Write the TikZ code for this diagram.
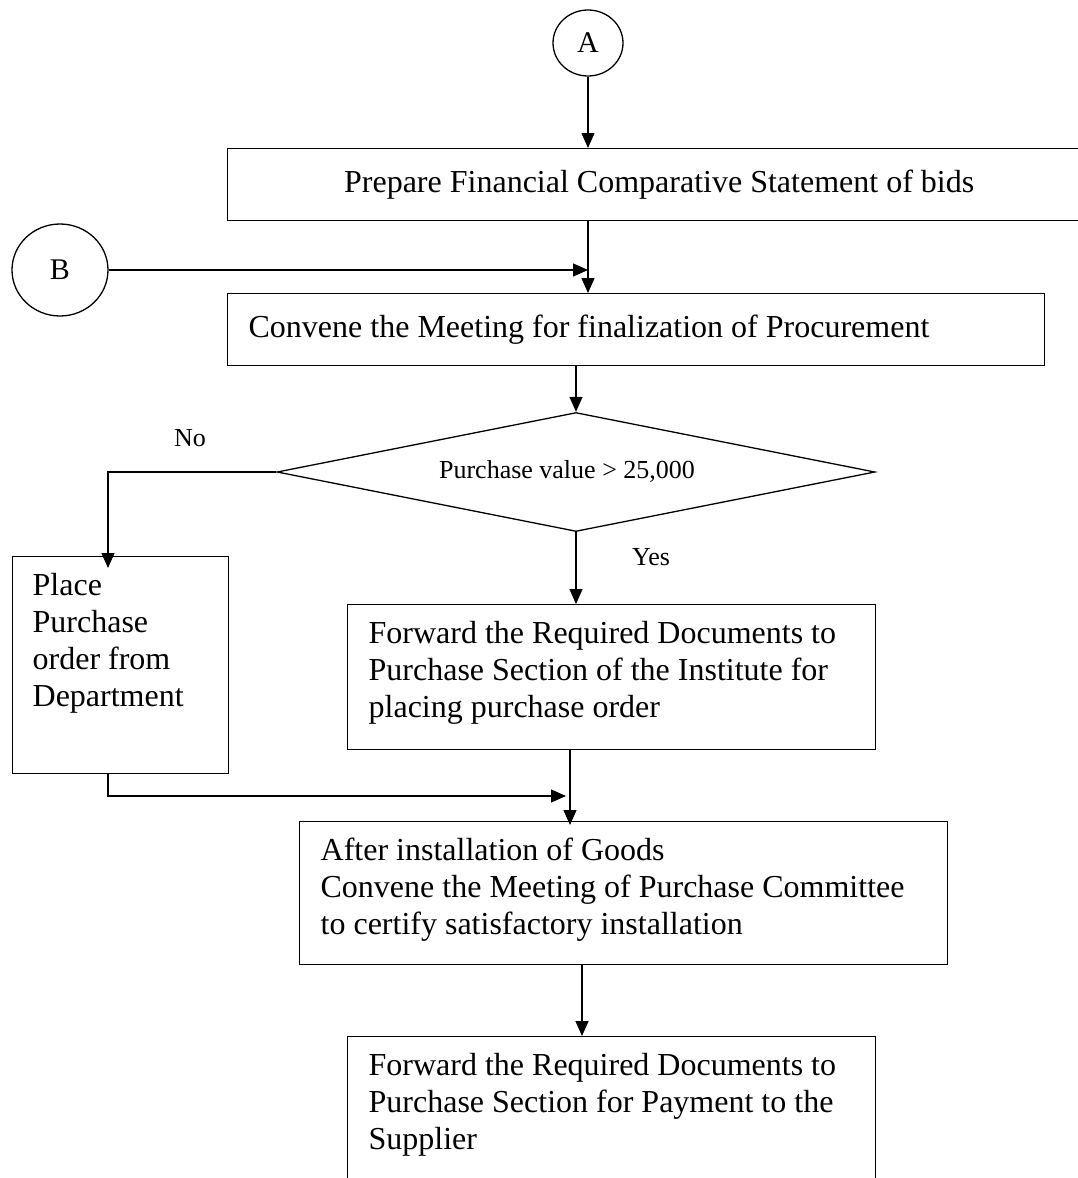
\documentclass[tikz,border=0pt]{standalone}
\usepackage{fontspec}
\setmainfont{Liberation Serif}
\usetikzlibrary{shapes.geometric,arrows.meta,calc}
\newcommand\flowtext[3]{\parbox[c][#2][t]{#1}{\raggedright\rule{0pt}{39pt}#3}}
\begin{document}
\begin{tikzpicture}[x=1pt,y=-1pt,
  every node/.style={font=\fontsize{32}{37}\selectfont},
  box/.style={draw,line width=1.3pt,rectangle,inner sep=0pt,anchor=north west},
  padbox/.style={box,inner xsep=21pt,inner ysep=0pt},
  circ/.style={draw,line width=1.3pt,ellipse,inner sep=0pt,font=\fontsize{30}{34}\selectfont},
  dia/.style={draw,line width=1.3pt,diamond,aspect=5,inner sep=0pt,minimum width=598pt,minimum height=119pt,font=\fontsize{26}{30}\selectfont},
  small/.style={font=\fontsize{26}{30}\selectfont},
  conn/.style={draw,line width=1.3pt},
  arr/.style={conn,-{Triangle[length=15pt,width=13pt]}}
]
\useasboundingbox (0,0) rectangle (1078,1178);
\fill[white] (0,0) rectangle (1078,1178);

% nodes
\node[circ,minimum width=70pt,minimum height=66pt] (A) at (588,43) {A};
\node[box,minimum width=863pt,minimum height=72pt] (b1) at (227,148) {Prepare Financial Comparative Statement of bids};
\node[circ,minimum width=96pt,minimum height=92pt] (B) at (60,270) {B};
\node[padbox,minimum height=72pt] (b2) at (227,293) {\makebox[775pt][l]{Convene the Meeting for finalization of Procurement}};
\node[dia] (D) at (576,472) {\raisebox{6pt}{Purchase value > 25,000\hspace{18pt}}};
\node[small] (no) at (190,438) {No};
\node[small] (yes) at (651,557) {Yes};
\node[padbox,inner xsep=20pt] (b3) at (12,556) {\flowtext{176pt}{217pt}{Place\\Purchase\\order from\\Department}};
\node[padbox] (b4) at (347,604) {\flowtext{486pt}{145pt}{Forward the Required Documents to\\Purchase Section of the Institute for\\placing purchase order}};
\node[padbox] (b5) at (299,821) {\flowtext{606pt}{143pt}{After installation of Goods\\Convene the Meeting of Purchase Committee\\to certify satisfactory installation}};
\node[padbox] (b6) at (347,1036) {\flowtext{486pt}{170pt}{Forward the Required Documents to\\Purchase Section for Payment to the\\Supplier}};

% helper coordinates
\coordinate (nc) at (108,472);
\coordinate (mg) at (570,796);
\coordinate (c6) at (582,964);

% connectors
\draw[arr] (A.south) -- (A.south |- b1.north);
\draw[arr] (A.south |- b1.south) -- (A.south |- b2.north);
\draw[arr] (B.east) -- (B.east -| A.south);
\draw[arr] (D.north |- b2.south) -- (D.north);
\draw[arr,shorten >=-12pt] (D.west) -- (nc) -- (nc |- b3.north);
\draw[arr] (D.south) -- (D.south |- b4.north);
\draw[arr,shorten >=-4pt] (mg |- b4.south) -- (mg |- b5.north);
\draw[arr,shorten >=4pt] (nc |- b3.south) -- (nc |- mg) -- (mg);
\draw[arr] (c6 |- b5.south) -- (c6 |- b6.north);
\end{tikzpicture}
\end{document}
